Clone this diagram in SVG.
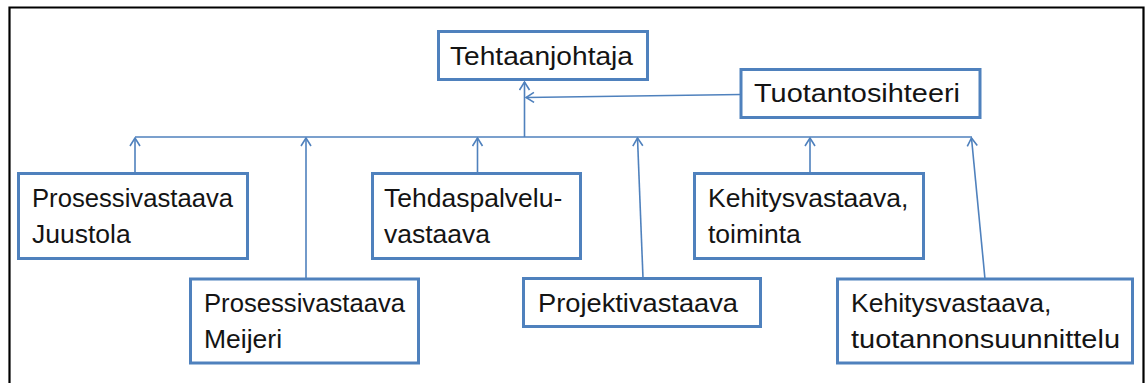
<svg xmlns="http://www.w3.org/2000/svg" width="1146" height="383" viewBox="0 0 1146 383">
<defs>
<marker id="arr" viewBox="0 0 10 12" refX="9" refY="6" markerWidth="10" markerHeight="12" markerUnits="userSpaceOnUse" orient="auto">
<path d="M1,1 L9,6 L1,11" fill="none" stroke="#4F81BD" stroke-width="1.6"/>
</marker>
</defs>
<style>
.box{fill:#fff;stroke:#4F81BD;stroke-width:3}
.t{font-family:"Liberation Sans",Arial,sans-serif;font-size:26.5px;fill:#141414}
.c{fill:none;stroke:#4F81BD;stroke-width:1.6}
.ca{fill:none;stroke:#4F81BD;stroke-width:1.6;marker-end:url(#arr)}
</style>
<rect x="0" y="0" width="1146" height="383" fill="#fff"/>
<path d="M9.5,383 L9.5,7.5 L1143.5,7.5 L1143.5,383" fill="none" stroke="#000" stroke-width="2.2"/>
<g id="connectors">
<line class="c" x1="135" y1="137" x2="972" y2="137"/>
<line class="ca" x1="524.5" y1="137" x2="524.5" y2="82"/>
<line class="ca" x1="741" y1="94.5" x2="526" y2="97.5"/>
<line class="ca" x1="135" y1="173" x2="135" y2="138"/>
<line class="ca" x1="306" y1="279" x2="306" y2="138"/>
<line class="ca" x1="477.5" y1="173" x2="477.5" y2="138"/>
<line class="ca" x1="643" y1="278" x2="637.5" y2="138"/>
<line class="ca" x1="810" y1="173" x2="810" y2="138"/>
<line class="ca" x1="985" y1="279" x2="971.5" y2="138"/>
</g>
<g id="n_tehtaanjohtaja">
<rect class="box" x="438.5" y="31.5" width="209" height="48"/>
<text class="t" x="450" y="65" textLength="183" lengthAdjust="spacingAndGlyphs">Tehtaanjohtaja</text>
</g>
<g id="n_tuotantosihteeri">
<rect class="box" x="741" y="69.5" width="239" height="48"/>
<text class="t" x="754" y="102" textLength="206" lengthAdjust="spacingAndGlyphs">Tuotantosihteeri</text>
</g>
<g id="n_juustola">
<rect class="box" x="18.5" y="173.5" width="229" height="85"/>
<text class="t" x="32" y="207" textLength="201" lengthAdjust="spacingAndGlyphs">Prosessivastaava</text>
<text class="t" x="32" y="243">Juustola</text>
</g>
<g id="n_meijeri">
<rect class="box" x="190.5" y="279" width="228" height="84"/>
<text class="t" x="204" y="312" textLength="201" lengthAdjust="spacingAndGlyphs">Prosessivastaava</text>
<text class="t" x="204" y="348">Meijeri</text>
</g>
<g id="n_tehdaspalvelu">
<rect class="box" x="372.5" y="173.5" width="208" height="85"/>
<text class="t" x="384" y="207">Tehdaspalvelu-</text>
<text class="t" x="384" y="243">vastaava</text>
</g>
<g id="n_projektivastaava">
<rect class="box" x="523.5" y="278.5" width="237" height="48"/>
<text class="t" x="538" y="312" textLength="200" lengthAdjust="spacingAndGlyphs">Projektivastaava</text>
</g>
<g id="n_kehitys_toiminta">
<rect class="box" x="694.5" y="173.5" width="229" height="85"/>
<text class="t" x="708" y="207">Kehitysvastaava,</text>
<text class="t" x="708" y="243">toiminta</text>
</g>
<g id="n_kehitys_tuotannon">
<rect class="box" x="837.5" y="279" width="295" height="84"/>
<text class="t" x="851" y="312">Kehitysvastaava,</text>
<text class="t" x="851" y="348" textLength="269" lengthAdjust="spacingAndGlyphs">tuotannonsuunnittelu</text>
</g>
</svg>
